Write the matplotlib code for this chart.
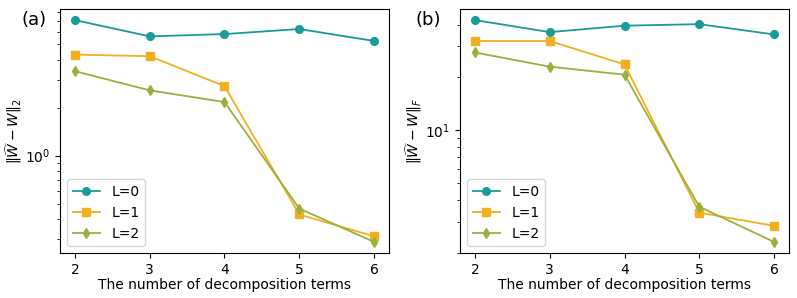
import matplotlib
matplotlib.use("Agg")
import matplotlib.pyplot as plt

terms = [2, 3, 4, 5, 6]
labels = ["L=0", "L=1", "L=2"]

spec_L0 = [7.10, 5.61, 5.80, 6.24, 5.25]
spec_L1 = [4.31, 4.21, 2.73, 0.427, 0.311]
spec_L2 = [3.39, 2.57, 2.17, 0.465, 0.287]

frob_L0 = [42.4, 36.2, 39.4, 40.2, 35.1]
frob_L1 = [32.2, 32.2, 23.7, 3.38, 2.84]
frob_L2 = [27.7, 23.0, 20.7, 3.65, 2.30]

colors = ["#1a9a9a", "#f0b020", "#9bb03c"]
markers = ["o", "s", "d"]

fig = plt.figure(figsize=(7.97, 2.98), dpi=100)
ax1 = fig.add_axes([60/797, 1-253/298, 329/797, 244/298])
ax2 = fig.add_axes([460/797, 1-253/298, 329/797, 244/298])

for ax, series, ylab in [
    (ax1, [spec_L0, spec_L1, spec_L2], r"$\|\widehat{W}-W\|_2$"),
    (ax2, [frob_L0, frob_L1, frob_L2], r"$\|\widehat{W}-W\|_F$"),
]:
    for s, c, m, lab in zip(series, colors, markers, labels):
        ax.plot(terms, s, color=c, marker=m, markersize=5.5, linewidth=1.3, label=lab)
    ax.set_yscale("log")
    ax.set_xticks(terms)
    ax.set_xlabel("The number of decomposition terms", fontsize=10, labelpad=1)
    ax.set_ylabel(ylab, fontsize=10, labelpad=1)
    ax.tick_params(labelsize=10)
    ax.legend(loc="lower left", fontsize=10)

fig.text(34.5/797, 1-20/298, "(a)", fontsize=13, ha="center", va="center")
fig.text(428.5/797, 1-20/298, "(b)", fontsize=13, ha="center", va="center")

fig.savefig("out.png", dpi=100)
